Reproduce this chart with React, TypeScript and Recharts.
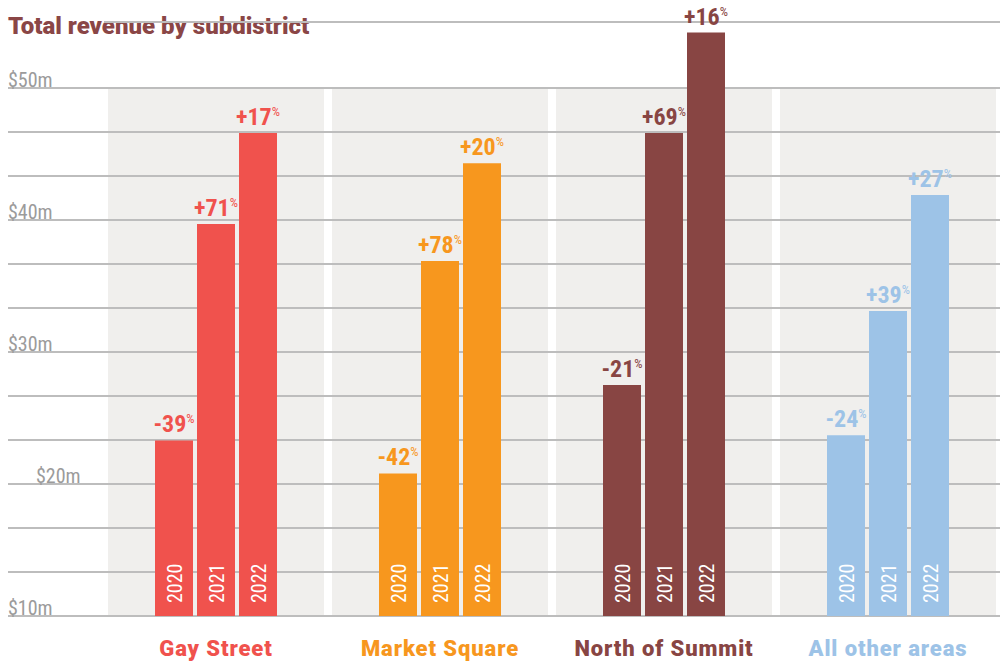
import React from "react";
import {
  BarChart,
  Bar,
  XAxis,
  YAxis,
  CartesianGrid,
  ReferenceArea,
  LabelList,
  Cell,
} from "recharts";

const subdistricts = ["Gay Street", "Market Square", "North of Summit", "All other areas"];
const colors = ["#f0524d", "#f7971e", "#884543", "#9dc3e7"];
const years = ["2020", "2021", "2022"];

// revenue in $m
const revenue2020 = [23.3, 20.8, 27.5, 23.7];
const revenue2021 = [39.7, 36.9, 46.6, 33.1];
const revenue2022 = [46.6, 44.3, 54.2, 41.9];

// % change vs previous year
const change2020 = [-39, -42, -21, -24];
const change2021 = [71, 78, 69, 39];
const change2022 = [17, 20, 16, 27];

const gridTicks = [10, 13.33, 16.67, 20, 23.33, 26.67, 30, 33.33, 36.67, 40, 43.33, 46.67, 50];
const tickLabels: Record<number, string> = {
  10: "$10m",
  20: "$20m",
  30: "$30m",
  40: "$40m",
  50: "$50m",
};

const FONT =
  "'Liberation Sans Narrow', 'Roboto Condensed', 'Arial Narrow', 'DejaVu Sans Condensed', sans-serif";
const HEAVY = "Roboto, 'Noto Sans', sans-serif";
const GRID = "#bdbdbd";

const data = subdistricts.map((name, i) => ({
  name,
  v2020: revenue2020[i],
  v2021: revenue2021[i],
  v2022: revenue2022[i],
  p2020: change2020[i],
  p2021: change2021[i],
  p2022: change2022[i],
}));

const box = (props: any) => {
  const vb = props.viewBox || {};
  return {
    x: vb.x ?? props.x,
    y: vb.y ?? props.y,
    width: vb.width ?? props.width,
    height: vb.height ?? props.height,
  };
};

const YTick = (props: any) => {
  const { y, payload } = props;
  const label = tickLabels[payload.value];
  return (
    <g>
      <line x1={8} x2={105} y1={y} y2={y} stroke={GRID} strokeWidth={2} />
      {label && (
        <text
          x={payload.value === 20 ? 36 : 8}
          y={y - 1}
          fill="#9b9b9b"
          fontSize={20}
          fontFamily={FONT}
        >
          {label}
        </text>
      )}
    </g>
  );
};

const XTick = (props: any) => {
  const { x, payload } = props;
  const i = subdistricts.indexOf(payload.value);
  return (
    <text
      x={x}
      y={656}
      textAnchor="middle"
      fill={colors[i]}
      fontSize={22}
      fontWeight={900}
      letterSpacing={0.9}
      fontFamily={HEAVY}
    >
      {payload.value}
    </text>
  );
};

const Panel = (props: any) => {
  const { x, y, width, height } = props;
  return <rect x={x + 4} y={y} width={width - 8} height={height} fill="#f0efed" />;
};

const pctLabel = (props: any) => {
  const { x, y, width } = box(props);
  const v = Number(props.value);
  const color = colors[props.index] ?? "#888";
  return (
    <text
      x={x + width / 2}
      y={y - 8}
      textAnchor="middle"
      fill={color}
      fontFamily={FONT}
      fontWeight="bold"
    >
      <tspan fontSize={24}>{v > 0 ? `+${v}` : `${v}`}</tspan>
      <tspan fontSize={13} fontWeight="normal" dy={-9}>
        %
      </tspan>
    </text>
  );
};

const yearLabel = (year: string) => (props: any) => {
  const { x, y, width, height } = box(props);
  const cx = x + width / 2 + 8;
  const cy = y + height - 13;
  return (
    <text
      x={cx}
      y={cy}
      transform={`rotate(-90 ${cx} ${cy})`}
      fill="#ffffff"
      fontSize={20}
      fontFamily={FONT}
    >
      {year}
    </text>
  );
};

export default function App() {
  return (
    <div style={{ position: "absolute", left: 0, top: 0, width: 1000, height: 665 }}>
      <div
        style={{
          position: "absolute",
          left: 8,
          top: 12,
          fontFamily: HEAVY,
          fontWeight: 900,
          fontSize: 24,
          lineHeight: "28px",
          color: "#8a4646",
          whiteSpace: "nowrap",
        }}
      >
        Total revenue by subdistrict
      </div>
      <BarChart
        width={1000}
        height={665}
        data={data}
        margin={{ top: 22, right: 0, bottom: 0, left: 0 }}
        barGap={4}
      >
        {subdistricts.map((name) => (
          <ReferenceArea
            key={name}
            x1={name}
            x2={name}
            y1={10}
            y2={50}
            shape={<Panel />}
            zIndex={-150}
          />
        ))}
        <CartesianGrid vertical={false} stroke={GRID} strokeWidth={2} />
        <XAxis
          dataKey="name"
          height={49}
          axisLine={false}
          tickLine={false}
          tick={<XTick />}
          interval={0}
        />
        <YAxis
          width={104}
          domain={[10, 55]}
          ticks={gridTicks}
          interval={0}
          axisLine={false}
          tickLine={false}
          tick={<YTick />}
        />
        {years.map((yr) => (
          <Bar key={yr} dataKey={`v${yr}`} barSize={38} isAnimationActive={false}>
            {data.map((d, i) => (
              <Cell key={d.name} fill={colors[i]} />
            ))}
            <LabelList dataKey={`p${yr}`} content={pctLabel} />
            <LabelList dataKey={`v${yr}`} content={yearLabel(yr)} />
          </Bar>
        ))}
      </BarChart>
    </div>
  );
}
